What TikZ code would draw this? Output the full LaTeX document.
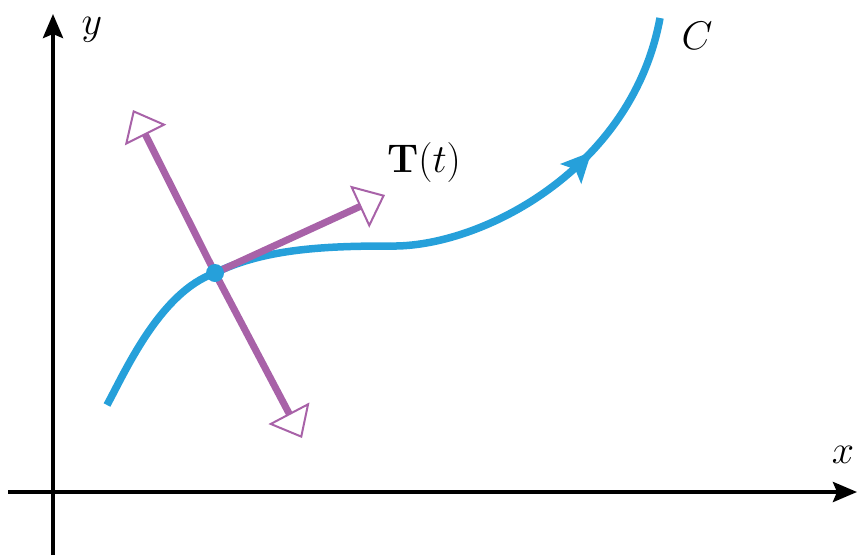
\RequirePackage{fix-cm}
\documentclass[tikz,border=0pt]{standalone}
\usetikzlibrary{arrows.meta,decorations.markings}
\definecolor{curveblue}{RGB}{38,160,218}
\definecolor{vecpurple}{RGB}{168,98,168}
\tikzset{
  axis/.style={line width=4pt, -{Stealth[length=24pt,width=20pt,inset=4pt]}},
  curve/.style={line width=7.5pt, curveblue},
  vec/.style={line width=7pt, vecpurple, -{Triangle[open,length=28pt,width=46pt,line width=2pt]}},
  lab/.style={font=\fontsize{40}{46}\selectfont, inner sep=0pt},
}
\begin{document}
\begin{tikzpicture}[x=1pt,y=-1pt]
\useasboundingbox (0,0) rectangle (858,555);
% axes
\coordinate (xs) at (8,492);
\coordinate (xe) at (857,492);
\coordinate (ys) at (53,555);
\coordinate (ye) at (53,14);
\draw[axis] (xs) -- (xe);
\draw[axis] (ys) -- (ye);
\node[lab] (ylab) at (92,30) {$y$};
\node[lab] (xlab) at (843,455) {$x$};
% curve
\coordinate (A) at (107,405);
\coordinate (P) at (215,273);
\coordinate (M) at (390,246);
\coordinate (E) at (660,18);
\draw[curve] (A) .. controls (125,372) and (160,292) .. (P)
  .. controls (265,248) and (330,246) .. (M);
\draw[curve, postaction={decorate},
  decoration={markings, mark=at position 0.6 with {\arrow{Stealth[length=30pt,width=28pt,inset=6pt]}}}]
  (M) .. controls (480,248) and (632,170) .. (E);
\node[lab] (Clab) at (697,36) {$C$};
% vectors
\coordinate (T) at (385,195);
\coordinate (N1) at (133,110);
\coordinate (N2) at (302,438);
\draw[vec] (P) -- (T);
\draw[vec] (P) -- (N1);
\draw[vec] (P) -- (N2);
\fill[curveblue] (P) circle (9);
\node[lab] (Tlab) at (424,162) {$\mathbf{T}(t)$};
\end{tikzpicture}
\end{document}
